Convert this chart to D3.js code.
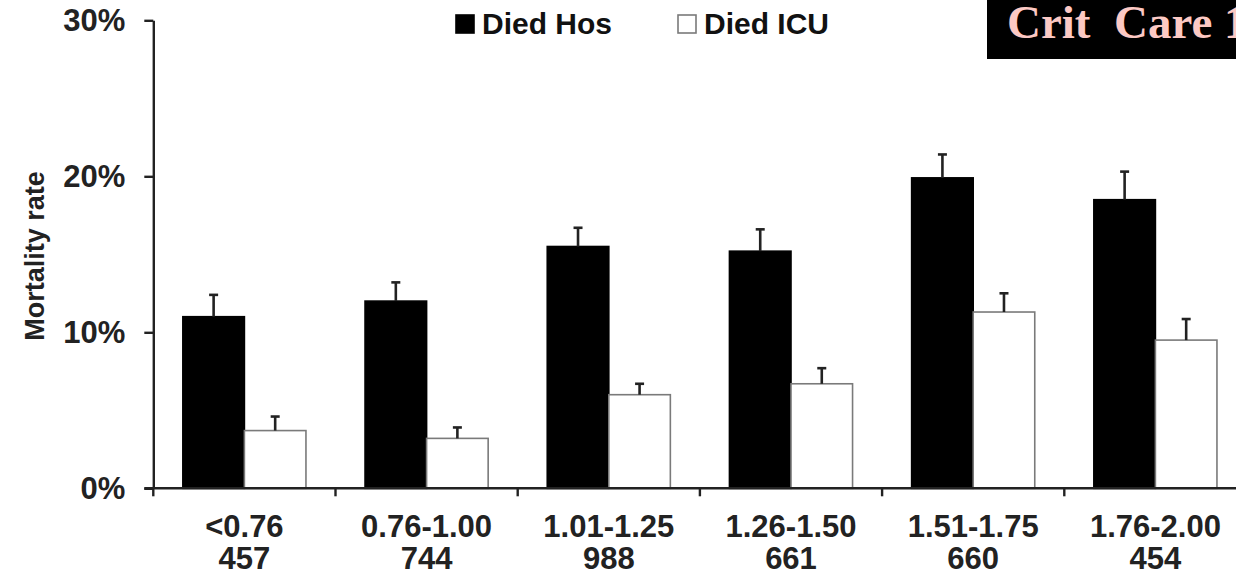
<!DOCTYPE html>
<html>
<head>
<meta charset="utf-8">
<script src="https://cdn.jsdelivr.net/npm/d3@7"></script>
<style>
  html, body { margin: 0; padding: 0; background: #fff; }
  svg { display: block; }
  text { font-family: "Liberation Sans", Arial, sans-serif; }
</style>
</head>
<body>
<svg id="chart" width="1236" height="577"></svg>
<script>
// Mortality by category: hospital vs ICU deaths (percent), with upper error bars
const categories = ["<0.76", "0.76-1.00", "1.01-1.25", "1.26-1.50", "1.51-1.75", "1.76-2.00"];
const counts = ["457", "744", "988", "661", "660", "454"];
const seriesNames = ["Died Hos", "Died ICU"];
const diedHos = [11.0, 12.0, 15.5, 15.2, 19.9, 18.5];
const diedHosErr = [1.4, 1.2, 1.2, 1.4, 1.5, 1.8];
const diedICU = [3.7, 3.2, 6.0, 6.7, 11.3, 9.5];
const diedICUErr = [0.9, 0.7, 0.7, 1.0, 1.2, 1.35];
const yTicks = [0, 10, 20, 30];

const svg = d3.select("#chart");
const plotLeft = 153.3, plotBottom = 488.3, plotTop = 20.3;
const step = 182.2;

const y = d3.scaleLinear().domain([0, 30]).range([plotBottom, plotTop]);
const x0 = d3.scaleBand().domain(categories).range([plotLeft, plotLeft + step * categories.length]).padding(0);
const x1 = d3.scaleBand().domain(seriesNames).range([0, x0.bandwidth()]).paddingInner(0).paddingOuter(0.48);

const rows = categories.map((c, i) => ({
  cat: c,
  bars: [
    { key: "Died Hos", v: diedHos[i], e: diedHosErr[i] },
    { key: "Died ICU", v: diedICU[i], e: diedICUErr[i] }
  ]
}));

const fillOf = { "Died Hos": "#000", "Died ICU": "#fff" };
const strokeOf = { "Died Hos": "#000", "Died ICU": "#7a7a7a" };

// bars
const groups = svg.append("g").selectAll("g").data(rows).join("g")
  .attr("transform", d => `translate(${x0(d.cat)},0)`);

groups.selectAll("rect").data(d => d.bars).join("rect")
  .attr("x", d => x1(d.key))
  .attr("y", d => y(d.v))
  .attr("width", x1.bandwidth())
  .attr("height", d => y(0) - y(d.v))
  .attr("fill", d => fillOf[d.key])
  .attr("stroke", d => strokeOf[d.key])
  .attr("stroke-width", 1.6);

// error bars (upper only)
const eb = groups.selectAll("g.err").data(d => d.bars).join("g").attr("class", "err");
eb.append("line")
  .attr("x1", d => x1(d.key) + x1.bandwidth() / 2)
  .attr("x2", d => x1(d.key) + x1.bandwidth() / 2)
  .attr("y1", d => y(d.v))
  .attr("y2", d => y(d.v + d.e))
  .attr("stroke", "#222").attr("stroke-width", 2.6);
eb.append("line")
  .attr("x1", d => x1(d.key) + x1.bandwidth() / 2 - 4.5)
  .attr("x2", d => x1(d.key) + x1.bandwidth() / 2 + 4.5)
  .attr("y1", d => y(d.v + d.e))
  .attr("y2", d => y(d.v + d.e))
  .attr("stroke", "#222").attr("stroke-width", 2.6);

// y axis
const yAxis = svg.append("g")
  .attr("transform", `translate(${plotLeft},0)`)
  .call(d3.axisLeft(y).tickValues(yTicks).tickFormat(d => d + "%").tickSize(9).tickSizeOuter(0).tickPadding(19));
yAxis.select(".domain").attr("stroke", "#222").attr("stroke-width", 2.4);
yAxis.selectAll(".tick line").attr("stroke", "#222").attr("stroke-width", 2.4);
yAxis.selectAll(".tick text")
  .attr("fill", "#222")
  .style("font-family", "'Liberation Sans', Arial, sans-serif")
  .style("font-size", "31px").style("font-weight", "bold");

// x axis line with ticks at category boundaries
svg.append("line")
  .attr("x1", plotLeft - 9).attr("x2", 1236)
  .attr("y1", y(0)).attr("y2", y(0))
  .attr("stroke", "#222").attr("stroke-width", 2.4);
svg.append("g").selectAll("line").data(categories).join("line")
  .attr("x1", d => x0(d)).attr("x2", d => x0(d))
  .attr("y1", y(0)).attr("y2", y(0) + 8)
  .attr("stroke", "#222").attr("stroke-width", 2.4);

// category labels (range and count)
const lab = svg.append("g").selectAll("text").data(categories).join("text")
  .attr("x", d => x0(d) + x0.bandwidth() / 2)
  .attr("text-anchor", "middle")
  .attr("fill", "#222")
  .style("font-size", "31px").style("font-weight", "bold");
lab.append("tspan").attr("x", d => x0(d) + x0.bandwidth() / 2).attr("y", 537).text(d => d);
lab.append("tspan").attr("x", d => x0(d) + x0.bandwidth() / 2).attr("y", 569).text((d, i) => counts[i]);

// y axis title
svg.append("text")
  .attr("transform", "translate(44,256) rotate(-90)")
  .attr("text-anchor", "middle")
  .attr("fill", "#222")
  .style("font-size", "27px").style("font-weight", "bold")
  .text("Mortality rate");

// legend
const legend = svg.append("g");
const legendX = [456, 678];
seriesNames.forEach((s, i) => {
  legend.append("rect")
    .attr("x", legendX[i]).attr("y", 15).attr("width", 18).attr("height", 18)
    .attr("fill", fillOf[s]).attr("stroke", strokeOf[s]).attr("stroke-width", 1.6);
  legend.append("text")
    .attr("x", legendX[i] + 26).attr("y", 34)
    .attr("fill", "#111")
    .style("font-size", "30px").style("font-weight", "bold")
    .text(s);
});

// journal banner, top right
svg.append("rect").attr("x", 987).attr("y", 0).attr("width", 249).attr("height", 59).attr("fill", "#000");
svg.append("text")
  .attr("x", 1007).attr("y", 38)
  .attr("fill", "#fcc9c4")
  .style("font-family", "'Liberation Serif', 'Times New Roman', serif")
  .style("font-size", "47px").style("font-weight", "bold")
  .style("white-space", "pre")
  .text("Crit  Care 1");
</script>
</body>
</html>
